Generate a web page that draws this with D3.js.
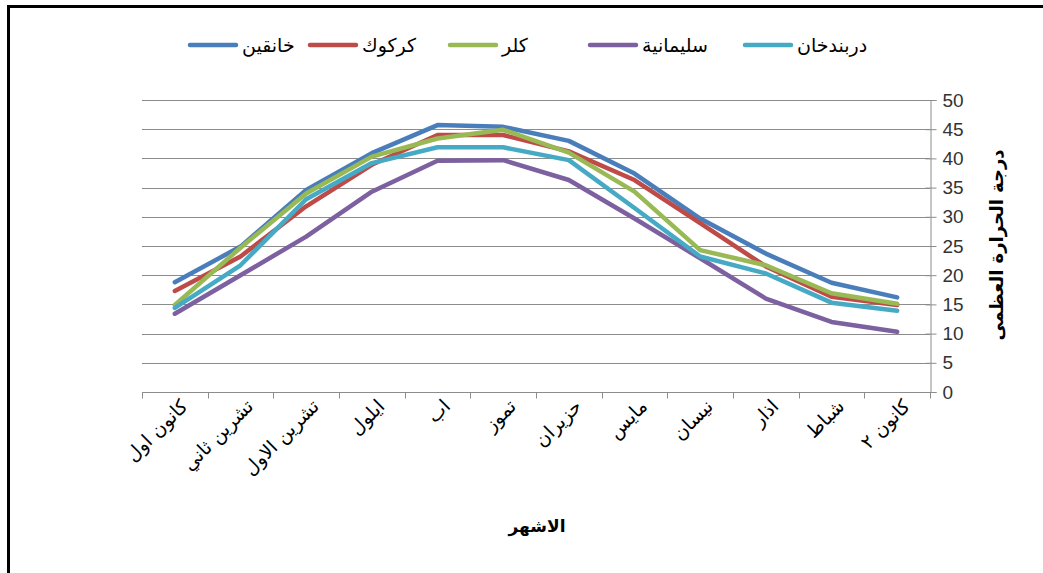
<!DOCTYPE html>
<html lang="ar">
<head>
<meta charset="utf-8">
<script src="https://cdn.jsdelivr.net/npm/d3@7"></script>
<style>
  html, body { margin: 0; padding: 0; background: #fff; }
  svg { display: block; }
</style>
</head>
<body>
<svg id="chart" width="1043" height="573"></svg>
<script>
// Months, as they run along the x axis
const months = ["كانون اول", "تشرين ثاني", "تشرين الاول", "ايلول", "اب", "تموز",
                "حزيران", "مايس", "نيسان", "اذار", "شباط", "كانون ٢"];

// Maximum temperature per station (°C)
const khanaqin    = [18.8, 24.9, 34.6, 40.9, 45.7, 45.4, 43.0, 37.4, 29.7, 23.7, 18.7, 16.2];
const kirkuk      = [17.3, 23.2, 31.8, 38.9, 44.0, 44.0, 41.2, 36.3, 28.9, 21.5, 16.3, 14.9];
const kalar       = [14.9, 24.7, 34.0, 40.3, 43.4, 44.9, 41.0, 34.3, 24.3, 21.7, 16.9, 15.1];
const sulaimaniya = [13.4, 20.0, 26.6, 34.3, 39.6, 39.7, 36.3, 29.7, 22.9, 16.0, 12.0, 10.3];
const darbandikhan = [14.4, 21.7, 33.0, 39.2, 41.9, 41.9, 39.7, 31.5, 23.2, 20.3, 15.3, 13.9];

const yTicks = [0, 5, 10, 15, 20, 25, 30, 35, 40, 45, 50];

const seriesNames  = ["خانقين", "كركوك", "كلر", "سليمانية", "دربندخان"];
const seriesValues = [khanaqin, kirkuk, kalar, sulaimaniya, darbandikhan];
const seriesColors = ["#4a7ebb", "#be4b48", "#98b954", "#7d60a0", "#46aac5"];

const svg = d3.select("#chart");
const arabicFont = "'DejaVu Sans', sans-serif";
const numFont = "'Liberation Sans', Arial, sans-serif";

// frame on the top and left edges
svg.append("path")
  .attr("d", "M8.5,573 V6.5 H1043")
  .attr("fill", "none").attr("stroke", "#000").attr("stroke-width", 3);

const plot = { left: 142, right: 930, top: 100, bottom: 392 };

const x = d3.scaleBand().domain(months).range([plot.left, plot.right]);
const y = d3.scaleLinear().domain([0, 50]).range([plot.bottom, plot.top]);

// horizontal gridlines
svg.append("g").selectAll("line").data(yTicks.filter(t => t > 0)).join("line")
  .attr("x1", plot.left).attr("x2", plot.right)
  .attr("y1", d => Math.round(y(d)) + 0.5).attr("y2", d => Math.round(y(d)) + 0.5)
  .attr("stroke", "#8c8c8c").attr("stroke-width", 1);

// right-hand value axis
const yAxis = svg.append("g")
  .attr("transform", `translate(${plot.right + 0.5},0)`)
  .call(d3.axisRight(y).tickValues(yTicks).tickSize(6).tickPadding(6));
yAxis.select(".domain").attr("stroke", "#8c8c8c");
yAxis.selectAll(".tick line").attr("stroke", "#8c8c8c").attr("x1", -5);
yAxis.selectAll(".tick text")
  .attr("font-family", numFont).attr("font-size", 19).attr("fill", "#333");

// bottom category axis with ticks between categories
const xAxisG = svg.append("g")
  .attr("transform", `translate(0,${plot.bottom + 0.5})`);
xAxisG.append("line")
  .attr("x1", plot.left).attr("x2", plot.right)
  .attr("stroke", "#8c8c8c");
const boundaries = months.map(m => x(m)).concat([plot.right]);
xAxisG.selectAll("line.tk").data(boundaries).join("line").attr("class", "tk")
  .attr("x1", d => Math.round(d) + 0.5).attr("x2", d => Math.round(d) + 0.5)
  .attr("y1", 0).attr("y2", 6).attr("stroke", "#8c8c8c");
xAxisG.selectAll("text").data(months).join("text")
  .attr("transform", d => `translate(${x(d) + x.bandwidth() / 2 + 14},${15}) rotate(-45)`)
  .attr("text-anchor", "end")
  .attr("font-family", arabicFont).attr("font-size", 19).attr("fill", "#000")
  .text(d => d);

// temperature lines
const line = d3.line()
  .x((d, i) => x(months[i]) + x.bandwidth() / 2)
  .y(d => y(d));

svg.append("g").selectAll("path").data(seriesValues).join("path")
  .attr("d", d => line(d))
  .attr("fill", "none")
  .attr("stroke", (d, i) => seriesColors[i])
  .attr("stroke-width", 4.5)
  .attr("stroke-linejoin", "round")
  .attr("stroke-linecap", "round");

// axis titles
svg.append("text")
  .attr("x", 537).attr("y", 532)
  .attr("text-anchor", "middle")
  .attr("font-family", arabicFont).attr("font-size", 17).attr("font-weight", "bold")
  .text("الاشهر");

svg.append("text")
  .attr("transform", `translate(1003,245) rotate(-90)`)
  .attr("text-anchor", "middle")
  .attr("font-family", arabicFont).attr("font-size", 18).attr("font-weight", "bold")
  .text("درجة الحرارة العظمى");

// legend along the top
const legendX = [190, 310, 450, 590, 745];
const legend = svg.append("g").selectAll("g").data(seriesNames).join("g")
  .attr("transform", (d, i) => `translate(${legendX[i]},45)`);
legend.append("line")
  .attr("x1", 0).attr("x2", 46).attr("y1", 0).attr("y2", 0)
  .attr("stroke", (d, i) => seriesColors[i]).attr("stroke-width", 4.5)
  .attr("stroke-linecap", "round");
legend.append("text")
  .attr("x", 52).attr("y", 7)
  .attr("text-anchor", "start")
  .attr("font-family", arabicFont).attr("font-size", 19)
  .text(d => d);
</script>
</body>
</html>
